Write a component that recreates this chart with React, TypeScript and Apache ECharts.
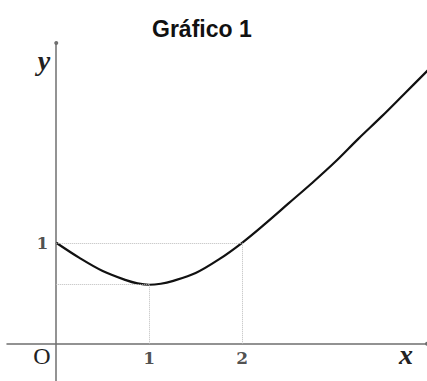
import React, { useEffect, useRef } from "react";
import * as echarts from "echarts";

// Curve samples (x, y) of the plotted function
const xValues = [0, 0.25, 0.5, 0.75, 0.875, 1, 1.125, 1.25, 1.5, 1.75, 2, 2.25, 2.5, 2.75, 3, 3.25, 3.5, 3.75, 4];
const yValues = [1.0, 0.85, 0.72, 0.63, 0.598, 0.584, 0.594, 0.62, 0.7, 0.835, 1.0, 1.19, 1.39, 1.59, 1.8, 2.03, 2.25, 2.48, 2.71];

// Reference points marked with dotted guides
const minPoint = [1, 0.584];
const unitPoint = [2, 1];

// Tick labels
const xTickValues = [1, 2];
const yTickValues = [1];

const serif = "'DejaVu Serif', 'Liberation Serif', serif";
const mathSerif = "'Liberation Serif', 'DejaVu Serif', serif";

export default function App() {
  const ref = useRef<HTMLDivElement>(null);

  useEffect(() => {
    if (!ref.current) return;
    const chart = echarts.init(ref.current, null, { renderer: "svg" });
    const guide = { type: "dotted" as const, color: "#bdbdbd", width: 1 };
    const tickFont = {
      fontFamily: serif,
      fontWeight: "bold" as const,
      fontSize: 17,
      color: "#222",
    };
    const axisCommon = {
      type: "value" as const,
      axisLine: {
        onZero: true,
        symbol: ["none", "circle"],
        symbolSize: [4, 4],
        lineStyle: { color: "#6f6f6f", width: 1.5 },
      },
      axisTick: { show: false },
      splitLine: { show: false },
      axisLabel: { show: false },
    };
    chart.setOption({
      animation: false,
      backgroundColor: "#ffffff",
      title: {
        text: "Gráfico 1",
        left: 147,
        top: 12,
        textStyle: {
          fontFamily: "'Liberation Sans', Arial, sans-serif",
          fontWeight: "bold",
          fontSize: 23,
          color: "#111",
        },
      },
      grid: { left: 7, right: 0, top: 43, bottom: 0, containLabel: false, outerBoundsMode: "none" },
      xAxis: { ...axisCommon, min: -0.53, max: 3.99 },
      yAxis: { ...axisCommon, min: -0.37, max: 2.98 },
      graphic: [
        {
          type: "text",
          x: 42,
          y: 356,
          style: { text: "O", font: `24px ${mathSerif}`, fill: "#222", align: "center", verticalAlign: "middle" },
        },
        {
          type: "text",
          x: 406,
          y: 354,
          style: { text: "x", font: `italic bold 28px ${mathSerif}`, fill: "#222", align: "center", verticalAlign: "middle" },
        },
        {
          type: "text",
          x: 44,
          y: 60,
          style: { text: "y", font: `italic bold 28px ${mathSerif}`, fill: "#222", align: "center", verticalAlign: "middle" },
        },
      ],
      series: [
        {
          type: "line",
          data: xValues.map((x, i) => [x, yValues[i]]),
          smooth: 0.35,
          showSymbol: false,
          lineStyle: { color: "#111", width: 2.2 },
          markLine: {
            silent: true,
            symbol: "none",
            label: { show: false },
            lineStyle: guide,
            data: [
              [{ coord: [0, unitPoint[1]] }, { coord: unitPoint }],
              [{ coord: unitPoint }, { coord: [unitPoint[0], 0] }],
              [{ coord: [0, minPoint[1]] }, { coord: minPoint }],
              [{ coord: minPoint }, { coord: [minPoint[0], 0] }],
            ],
          },
        },
        {
          // tick labels along the x axis
          type: "scatter",
          silent: true,
          symbolSize: 0,
          data: xTickValues.map((v) => [v, 0]),
          label: {
            show: true,
            position: "bottom",
            distance: 6,
            formatter: (p: any) => String(p.value[0]),
            ...tickFont,
          },
        },
        {
          // tick labels along the y axis
          type: "scatter",
          silent: true,
          symbolSize: 0,
          data: yTickValues.map((v) => [0, v]),
          label: {
            show: true,
            position: "left",
            distance: 8,
            formatter: (p: any) => String(p.value[1]),
            ...tickFont,
          },
        },
      ],
    });
    return () => chart.dispose();
  }, []);

  return (
    <div
      ref={ref}
      style={{ position: "fixed", left: 0, top: 0, width: 427, height: 381, background: "#fff" }}
    />
  );
}
